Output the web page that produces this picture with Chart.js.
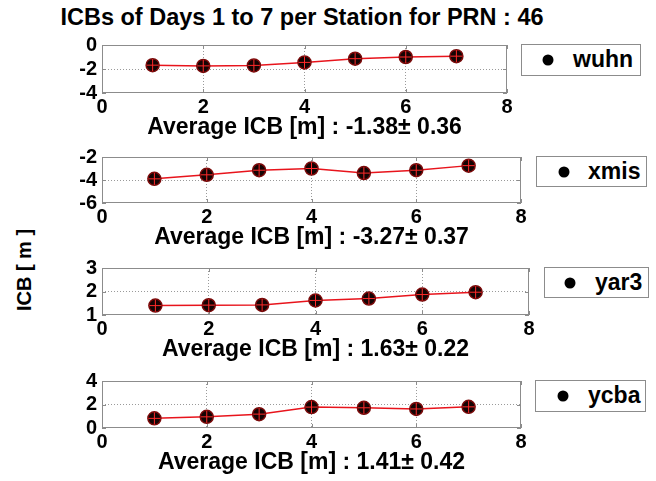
<!DOCTYPE html>
<html>
<head>
<meta charset="utf-8">
<script src="https://cdn.jsdelivr.net/npm/chart.js@4.4.1/dist/chart.umd.min.js"></script>
<style>
  html, body { margin: 0; padding: 0; background: #fff; }
  #fig { position: relative; width: 656px; height: 481px; overflow: hidden;
         font-family: "Liberation Sans", Arial, sans-serif; font-weight: bold; color: #000; }
  #fig canvas { position: absolute; left: 0; }
  #title { position: absolute; left: 0; width: 604px; top: 4px; text-align: center;
           font-size: 23.5px; line-height: 26px; white-space: nowrap; }
  #ylab { position: absolute; left: 24px; top: 270px; font-size: 20px; white-space: nowrap;
          transform: translate(-50%, -50%) rotate(-90deg); }
  .legend { position: absolute; box-sizing: border-box; border: 1px solid #8c8c8c; background: #fff; }
  .legend .dot { position: absolute; width: 11px; height: 11px; border-radius: 50%; background: #000;
                 top: 50%; transform: translate(-50%, -50%); }
  .legend .lab { position: absolute; top: 50%; transform: translateY(-52%); font-size: 23px;
                 line-height: 1; white-space: nowrap; }
</style>
</head>
<body>
<div id="fig">
  <div id="title">ICBs of Days 1 to 7 per Station for PRN : 46</div>
  <div id="ylab">ICB [ m ]</div>
</div>
<script>
// ---- data ----
const days = [1, 2, 3, 4, 5, 6, 7];
const stations = ['wuhn', 'xmis', 'yar3', 'ycba'];
const icbWuhn = [-1.68, -1.74, -1.70, -1.45, -1.14, -1.00, -0.93];
const icbXmis = [-3.90, -3.55, -3.15, -3.00, -3.40, -3.15, -2.75];
const icbYar3 = [1.40, 1.42, 1.43, 1.62, 1.70, 1.87, 1.97];
const icbYcba = [0.82, 0.95, 1.18, 1.78, 1.72, 1.62, 1.80];
const icbMeans = ['-1.38', '-3.27', '1.63', '1.41'];
const icbStds = ['0.36', '0.37', '0.22', '0.42'];
const xTickValues = [0, 2, 4, 6, 8];
const yTickWuhn = [-4, -2, 0];
const yTickXmis = [-6, -4, -2];
const yTickYar3 = [1, 2, 3];
const yTickYcba = [0, 2, 4];

const seriesList = [icbWuhn, icbXmis, icbYar3, icbYcba];
const yTickList = [yTickWuhn, yTickXmis, yTickYar3, yTickYcba];

// ---- layout of the four axes boxes (page pixels) ----
const boxes = [
  { left: 102, right: 507, top: 44,  bottom: 93,  leg: { x: 521, y: 44,  w: 120, h: 32, dot: 26, text: 51 } },
  { left: 102, right: 521, top: 156, bottom: 203, leg: { x: 536, y: 156, w: 111, h: 31, dot: 27, text: 51 } },
  { left: 102, right: 529, top: 267, bottom: 315, leg: { x: 544, y: 267, w: 105, h: 31, dot: 25, text: 50 } },
  { left: 102, right: 521, top: 380, bottom: 428, leg: { x: 535, y: 380, w: 111, h: 32, dot: 27, text: 52 } }
];
const PAD_TOP = 16, PAD_RIGHT = 20, X_AXIS_H = 48;
const FONT = '"Liberation Sans", Arial, sans-serif';

// full frame plus inward tick marks, MATLAB style
const boxFrame = {
  id: 'boxFrame',
  beforeDatasetsDraw(chart) {
    const { ctx, chartArea: a, scales: { x, y } } = chart;
    ctx.save();
    ctx.strokeStyle = '#8c8c8c';
    ctx.lineWidth = 1;
    ctx.strokeRect(a.left + 0.5, a.top + 0.5, a.width - 1, a.height - 1);
    ctx.beginPath();
    x.ticks.forEach(t => {
      const px = Math.round(x.getPixelForValue(t.value)) + 0.5;
      ctx.moveTo(px, a.bottom); ctx.lineTo(px, a.bottom - 4);
      ctx.moveTo(px, a.top); ctx.lineTo(px, a.top + 4);
    });
    y.ticks.forEach(t => {
      const py = Math.round(y.getPixelForValue(t.value)) + 0.5;
      ctx.moveTo(a.left, py); ctx.lineTo(a.left + 4, py);
      ctx.moveTo(a.right, py); ctx.lineTo(a.right - 4, py);
    });
    ctx.stroke();
    ctx.restore();
  }
};

const fig = document.getElementById('fig');

stations.forEach((name, i) => {
  const b = boxes[i];
  const values = seriesList[i];
  const yTicks = yTickList[i];
  const pts = days.map((d, k) => ({ x: d, y: values[k] }));

  const cv = document.createElement('canvas');
  const w = b.right + PAD_RIGHT;
  const h = PAD_TOP + (b.bottom - b.top) + X_AXIS_H;
  cv.width = w; cv.height = h;
  cv.style.top = (b.top - PAD_TOP) + 'px';
  fig.appendChild(cv);

  const innerGrid = (lo, hi) => ctx =>
    (ctx.tick && (ctx.tick.value === lo || ctx.tick.value === hi)) ? 'rgba(0,0,0,0)' : '#9a9a9a';

  new Chart(cv, {
    type: 'line',
    data: {
      datasets: [
        {
          label: name,
          data: pts,
          order: 2,
          borderColor: '#e8141c',
          borderWidth: 1.5,
          pointStyle: 'circle',
          pointRadius: 6.5,
          pointBackgroundColor: '#140404',
          pointBorderColor: '#7a0a0a',
          pointBorderWidth: 1.5,
          tension: 0
        },
        {
          label: name,
          data: pts,
          order: 1,
          showLine: false,
          pointStyle: 'cross',
          pointRadius: 6,
          pointBorderColor: '#ff2a2a',
          pointBorderWidth: 1
        }
      ]
    },
    options: {
      responsive: false,
      animation: false,
      events: [],
      layout: { padding: { top: PAD_TOP, right: PAD_RIGHT, left: 0, bottom: 0 } },
      plugins: { legend: { display: false }, tooltip: { enabled: false }, title: { display: false } },
      scales: {
        x: {
          type: 'linear',
          min: xTickValues[0],
          max: xTickValues[xTickValues.length - 1],
          afterBuildTicks: s => { s.ticks = xTickValues.map(v => ({ value: v })); },
          afterFit: s => { s.height = X_AXIS_H; },
          grid: { color: innerGrid(xTickValues[0], xTickValues[xTickValues.length - 1]), lineWidth: 1, drawTicks: false },
          border: { display: false, dash: [1, 2] },
          ticks: { color: '#000', padding: 2, autoSkip: false, maxRotation: 0,
                   font: { family: FONT, size: 20, weight: 'bold' } },
          title: {
            display: true,
            text: 'Average ICB [m] : ' + icbMeans[i] + '\u00b1 ' + icbStds[i],
            color: '#000',
            padding: 0,
            font: { family: FONT, size: 23, weight: 'bold' }
          }
        },
        y: {
          type: 'linear',
          min: yTicks[0],
          max: yTicks[yTicks.length - 1],
          afterBuildTicks: s => { s.ticks = yTicks.map(v => ({ value: v })); },
          afterFit: s => { s.width = b.left; },
          grid: { color: innerGrid(yTicks[0], yTicks[yTicks.length - 1]), lineWidth: 1, drawTicks: false },
          border: { display: false, dash: [1, 2] },
          ticks: { color: '#000', padding: 5, autoSkip: false,
                   font: { family: FONT, size: 20, weight: 'bold' } }
        }
      }
    },
    plugins: [boxFrame]
  });

  // legend box
  const leg = document.createElement('div');
  leg.className = 'legend';
  Object.assign(leg.style, { left: b.leg.x + 'px', top: b.leg.y + 'px', width: b.leg.w + 'px', height: b.leg.h + 'px' });
  const dot = document.createElement('div');
  dot.className = 'dot';
  dot.style.left = b.leg.dot + 'px';
  const lab = document.createElement('div');
  lab.className = 'lab';
  lab.style.left = b.leg.text + 'px';
  lab.textContent = name;
  leg.appendChild(dot); leg.appendChild(lab);
  fig.appendChild(leg);
});
</script>
</body>
</html>
